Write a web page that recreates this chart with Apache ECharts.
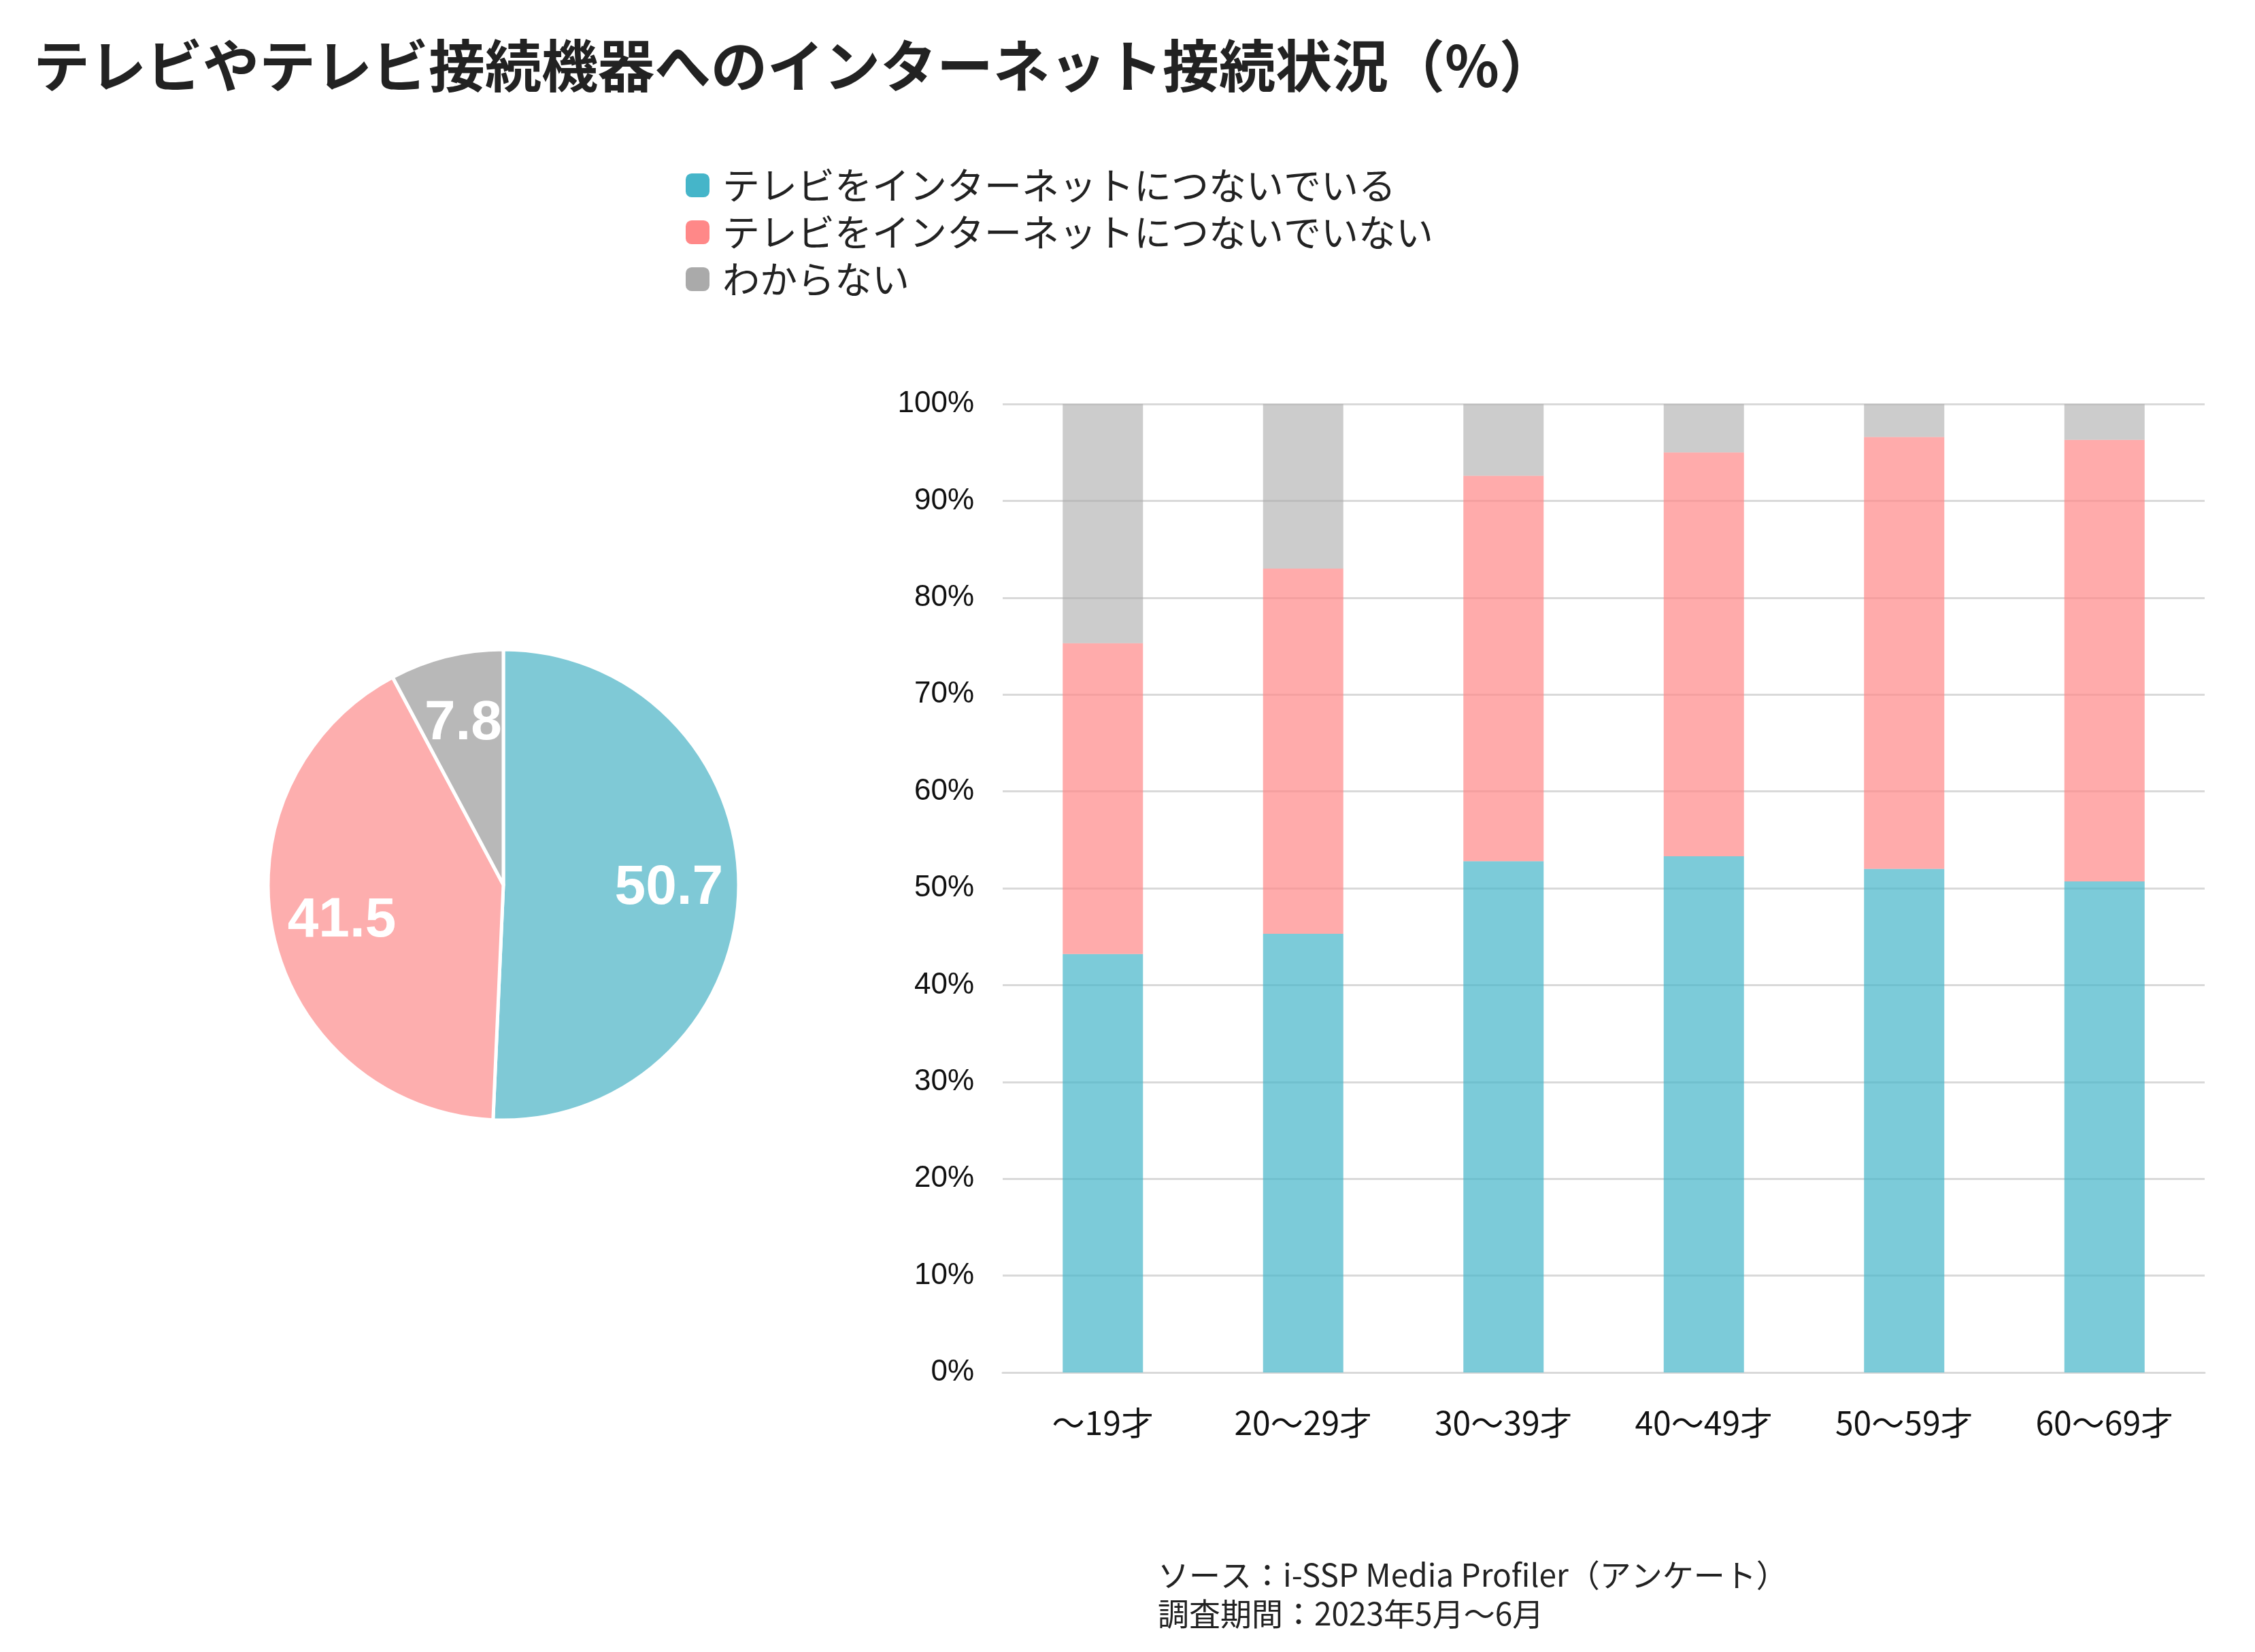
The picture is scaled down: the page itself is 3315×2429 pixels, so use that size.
<!DOCTYPE html>
<html>
<head>
<meta charset="utf-8">
<script src="https://cdn.jsdelivr.net/npm/echarts@6/dist/echarts.min.js"></script>
<style>
  html, body { margin: 0; padding: 0; background: #fff; }
  #main { width: 3315px; height: 2429px; }
</style>
</head>
<body>
<div id="main"></div>
<script>
// 凡例・系列名
const seriesNames = ['テレビをインターネットにつないでいる', 'テレビをインターネットにつないでいない', 'わからない']
// 全体（円グラフ）
const totalValues = [50.7, 41.5, 7.8]
// 年代別（積み上げ棒）
const ageGroups = ['～19才', '20～29才', '30～39才', '40～49才', '50～59才', '60～69才']
const connectedValues = [43.2, 45.3, 52.8, 53.3, 52.0, 50.7]
const notConnectedValues = [32.1, 37.7, 39.8, 41.7, 44.6, 45.6]
const unknownValues = [24.7, 17.0, 7.4, 5.0, 3.4, 3.7]

const legendColors = ['#45b5c9', '#ff8888', '#aaaaaa']
const pieColors = ['#7fc9d6', '#fdaeae', '#b8b8b8']
const barOpacity = [0.7, 0.7, 0.6]

const chart = echarts.init(document.getElementById('main'))

const pieData = seriesNames.map((name, i) => ({ name: name, value: totalValues[i] }))
const barValues = [connectedValues, notConnectedValues, unknownValues]
const pieCenter = [740, 1301]
const pieRadius = 346

const option = {
  backgroundColor: '#fff',
  animation: false,
  title: [
    {
      text: 'テレビやテレビ接続機器へのインターネット接続状況（%）',
      left: 44,
      top: 50,
      textStyle: {
        fontFamily: 'Noto Sans CJK JP',
        fontWeight: 'bold',
        fontSize: 83,
        color: '#222'
      }
    },
    {
      text: 'ソース：i-SSP Media Profiler（アンケート）\n調査期間：2023年5月～6月',
      left: 1697,
      top: 2282,
      textStyle: {
        fontFamily: 'Noto Sans CJK JP',
        fontWeight: 'normal',
        fontSize: 46,
        lineHeight: 57,
        color: '#222'
      }
    }
  ],
  legend: {
    orient: 'vertical',
    left: 1003,
    top: 237,
    icon: 'roundRect',
    itemWidth: 35,
    itemHeight: 35,
    itemGap: 8,
    textStyle: {
      fontFamily: 'Noto Sans CJK JP',
      fontSize: 55,
      lineHeight: 55,
      color: '#222',
      padding: [6, 0, 0, 14]
    },
    data: seriesNames.map((name, i) => ({
      name: name,
      itemStyle: { color: legendColors[i], opacity: 1 }
    }))
  },
  grid: {
    left: 1474,
    right: 74,
    top: 594,
    bottom: 411
  },
  xAxis: {
    type: 'category',
    data: ageGroups,
    axisLine: { lineStyle: { color: '#d9d9d9', width: 3 } },
    axisTick: { show: false },
    axisLabel: {
      margin: 50,
      fontFamily: 'Noto Sans CJK JP',
      fontSize: 48,
      color: '#111'
    }
  },
  yAxis: {
    type: 'value',
    min: 0,
    max: 100,
    interval: 10,
    axisLine: { show: false },
    axisTick: { show: false },
    axisLabel: {
      margin: 42,
      formatter: '{value}%',
      fontFamily: 'Liberation Sans',
      fontSize: 44,
      color: '#111'
    },
    splitLine: { lineStyle: { color: '#d9d9d9', width: 3 } }
  },
  series: [
    {
      type: 'pie',
      center: pieCenter,
      radius: pieRadius,
      startAngle: 90,
      clockwise: true,
      silent: true,
      label: { show: false },
      labelLine: { show: false },
      itemStyle: { borderColor: '#fff', borderWidth: 5 },
      data: pieData.map((d, i) => ({ ...d, itemStyle: { color: pieColors[i] } }))
    },
    {
      // ラベル位置調整用（透明）
      type: 'pie',
      center: pieCenter,
      radius: pieRadius * 1.39,
      startAngle: 90,
      clockwise: true,
      silent: true,
      itemStyle: { color: 'rgba(0,0,0,0)' },
      label: {
        show: true,
        position: 'inside',
        formatter: p => p.value.toFixed(1),
        fontFamily: 'Liberation Sans',
        fontWeight: 'bold',
        fontSize: 82,
        color: '#fff'
      },
      labelLine: { show: false },
      data: pieData
    },
    ...seriesNames.map((name, i) => ({
      name: name,
      type: 'bar',
      stack: 'age',
      barWidth: 118,
      itemStyle: { color: legendColors[i], opacity: barOpacity[i] },
      data: barValues[i]
    }))
  ]
}

chart.setOption(option)
</script>
</body>
</html>
